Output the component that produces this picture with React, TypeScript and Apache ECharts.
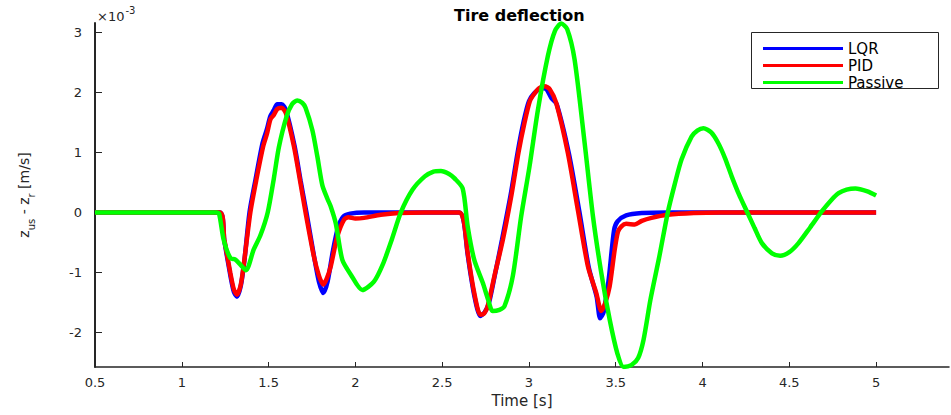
import React, { useEffect, useRef } from "react";
import * as echarts from "echarts";

// ---- data (tire deflection, units of 1e-3) ----
const lqrT = [0.5, 1.22, 1.245, 1.28, 1.3, 1.318, 1.34, 1.36, 1.39, 1.425, 1.465, 1.49, 1.51, 1.53, 1.55, 1.575, 1.6, 1.65, 1.685, 1.718, 1.765, 1.79, 1.815, 1.84, 1.87, 1.9, 1.93, 1.97, 2.05, 2.6, 2.625, 2.647, 2.685, 2.72, 2.745, 2.77, 2.801, 2.845, 2.895, 2.935, 2.97, 3.0, 3.03, 3.07, 3.1, 3.13, 3.16, 3.23, 3.29, 3.345, 3.39, 3.41, 3.43, 3.46, 3.49, 3.51, 3.56, 3.65, 3.8, 5.0];
const lqrY = [0, 0, -0.47, -1.05, -1.32, -1.4, -1.22, -0.82, 0.0, 0.55, 1.15, 1.38, 1.6, 1.7, 1.8, 1.8, 1.7, 1.1, 0.52, 0.0, -0.78, -1.15, -1.34, -1.15, -0.65, -0.25, -0.07, -0.02, 0, 0, -0.16, -0.7, -1.38, -1.72, -1.66, -1.5, -1.08, -0.45, 0.3, 1.0, 1.52, 1.85, 1.98, 2.07, 2.05, 1.9, 1.8, 0.98, 0.02, -0.92, -1.4, -1.76, -1.66, -1.1, -0.3, -0.15, -0.05, -0.01, 0, 0];

const pidT = [0.5, 1.22, 1.245, 1.28, 1.3, 1.318, 1.34, 1.36, 1.395, 1.43, 1.469, 1.49, 1.511, 1.53, 1.55, 1.575, 1.6, 1.646, 1.68, 1.713, 1.761, 1.79, 1.815, 1.835, 1.858, 1.896, 1.935, 1.96, 2.0, 2.05, 2.146, 2.25, 2.4, 2.6, 2.625, 2.647, 2.685, 2.72, 2.742, 2.762, 2.801, 2.85, 2.9, 2.94, 2.975, 3.005, 3.03, 3.06, 3.09, 3.12, 3.157, 3.224, 3.282, 3.34, 3.388, 3.417, 3.44, 3.465, 3.494, 3.513, 3.533, 3.56, 3.61, 3.65, 3.706, 3.8, 3.95, 4.1, 5.0];
const pidY = [0, 0, -0.45, -1.01, -1.28, -1.37, -1.2, -0.8, 0.0, 0.55, 1.1, 1.3, 1.55, 1.62, 1.72, 1.74, 1.65, 1.1, 0.55, 0.0, -0.73, -1.05, -1.2, -1.1, -0.9, -0.4, -0.12, -0.08, -0.1, -0.09, -0.04, -0.01, 0, 0, -0.15, -0.67, -1.34, -1.7, -1.68, -1.56, -1.06, -0.45, 0.3, 1.0, 1.5, 1.85, 1.97, 2.07, 2.1, 2.05, 1.82, 0.99, 0.04, -0.9, -1.34, -1.64, -1.5, -1.23, -0.62, -0.32, -0.23, -0.19, -0.2, -0.14, -0.09, -0.04, -0.01, 0, 0];

const passiveT = [0.5, 1.2, 1.215, 1.241, 1.28, 1.307, 1.335, 1.37, 1.414, 1.453, 1.495, 1.53, 1.559, 1.603, 1.635, 1.665, 1.695, 1.713, 1.752, 1.781, 1.81, 1.84, 1.858, 1.887, 1.925, 1.973, 2.04, 2.107, 2.16, 2.21, 2.262, 2.33, 2.4, 2.45, 2.493, 2.54, 2.57, 2.618, 2.647, 2.685, 2.734, 2.765, 2.791, 2.83, 2.859, 2.907, 2.955, 3.003, 3.052, 3.109, 3.15, 3.186, 3.22, 3.263, 3.321, 3.369, 3.417, 3.465, 3.51, 3.545, 3.59, 3.629, 3.66, 3.7, 3.75, 3.8, 3.84, 3.879, 3.937, 3.97, 4.005, 4.05, 4.091, 4.13, 4.168, 4.21, 4.255, 4.3, 4.342, 4.4, 4.447, 4.5, 4.553, 4.62, 4.688, 4.74, 4.784, 4.83, 4.881, 4.95, 5.0];
const passiveY = [0, 0, -0.02, -0.45, -0.76, -0.78, -0.86, -0.96, -0.62, -0.38, 0.0, 0.56, 1.08, 1.59, 1.8, 1.86, 1.82, 1.74, 1.37, 0.93, 0.45, 0.22, 0.1, -0.18, -0.79, -1.03, -1.29, -1.15, -0.85, -0.45, 0.0, 0.38, 0.6, 0.68, 0.69, 0.64, 0.57, 0.4, -0.23, -0.79, -1.17, -1.45, -1.64, -1.62, -1.56, -1.06, -0.07, 0.76, 1.71, 2.6, 3.02, 3.14, 3.05, 2.54, 1.15, -0.07, -1.01, -1.78, -2.35, -2.57, -2.54, -2.42, -2.12, -1.45, -0.75, 0.0, 0.47, 0.88, 1.26, 1.36, 1.4, 1.33, 1.15, 0.9, 0.6, 0.3, 0.02, -0.26, -0.51, -0.68, -0.72, -0.66, -0.51, -0.25, 0.02, 0.2, 0.32, 0.38, 0.4, 0.35, 0.28];

const xTicks = [0.5, 1, 1.5, 2, 2.5, 3, 3.5, 4, 4.5, 5];
const yTicks = [-2, -1, 0, 1, 2, 3];
const seriesNames = ["LQR", "PID", "Passive"];
const seriesColors = ["#0000ff", "#ff0000", "#00ff00"];

const pairs = (t: number[], y: number[]) => t.map((v, i) => [v, y[i]]);

const FONT = "DejaVu Sans";
const INK = "#262626";

export default function App() {
  const ref = useRef<HTMLDivElement>(null);
  useEffect(() => {
    if (!ref.current) return;
    const chart = echarts.init(ref.current, undefined, { renderer: "svg" });
    const data = [pairs(lqrT, lqrY), pairs(pidT, pidY), pairs(passiveT, passiveY)];
    chart.setOption({
      animation: false,
      backgroundColor: "#ffffff",
      title: {
        text: "Tire deflection",
        left: 449,
        top: 2,
        textStyle: { fontFamily: FONT, fontSize: 16, fontWeight: "bold", color: "#000" },
      },
      grid: { left: 95, right: 2, top: 23, bottom: 48, containLabel: false },
      legend: {
        orient: "vertical",
        left: 758,
        top: 36,
        icon: "rect",
        itemWidth: 80,
        itemHeight: 3,
        itemGap: 2,
        itemStyle: { borderWidth: 0 },
        textStyle: { fontFamily: FONT, fontSize: 15, color: "#000", lineHeight: 15 },
        data: seriesNames,
      },
      graphic: [
        {
          type: "rect",
          left: 751,
          top: 32,
          z: 3,
          shape: { width: 187, height: 56 },
          style: { fill: "#fff", stroke: INK, lineWidth: 1 },
        },
        {
          type: "text",
          left: 97,
          top: 5,
          style: {
            text: "{a|×10}{b|-3}",
            rich: {
              a: { fontFamily: FONT, fontSize: 13, fill: INK, padding: [6, 0, 0, 0] },
              b: { fontFamily: FONT, fontSize: 10, fill: INK, padding: [0, 0, 6, 1] },
            },
          },
        },
      ],
      xAxis: {
        type: "value",
        min: 0.5,
        max: 5.42,
        splitLine: { show: false },
        axisLine: { onZero: false, lineStyle: { color: INK, width: 1.5 } },
        axisTick: { inside: true, length: 5, customValues: xTicks, lineStyle: { color: INK } },
        axisLabel: {
          customValues: xTicks,
          margin: 9,
          fontFamily: FONT,
          fontSize: 13,
          color: INK,
          formatter: (v: number) => String(v),
        },
        name: "Time [s]",
        nameLocation: "middle",
        nameGap: 26,
        nameTextStyle: { fontFamily: FONT, fontSize: 15, color: INK },
      },
      yAxis: {
        type: "value",
        min: -2.57,
        max: 3.15,
        splitLine: { show: false },
        axisLine: { show: true, onZero: false, lineStyle: { color: INK, width: 2 } },
        axisTick: { show: true, inside: true, length: 7, customValues: yTicks, lineStyle: { color: INK } },
        axisLabel: {
          customValues: yTicks,
          margin: 13,
          fontFamily: FONT,
          fontSize: 13,
          color: INK,
          formatter: (v: number) => String(v),
        },
        name: "{m|z}{s|us}{m| - z}{s|r}{m| [m/s]}",
        nameLocation: "middle",
        nameRotate: 90,
        nameGap: 58,
        nameTextStyle: {
          rich: {
            m: { fontFamily: FONT, fontSize: 14, color: INK, padding: [0, 0, 6, 0] },
            s: { fontFamily: FONT, fontSize: 10, color: INK, padding: [8, 0, 0, 0] },
          },
        },
      },
      series: seriesNames.map((name, i) => ({
        name,
        type: "line",
        data: data[i],
        showSymbol: false,
        symbol: "none",
        smooth: 0.25,
        color: seriesColors[i],
        lineStyle: { color: seriesColors[i], width: 4.5 },
        z: 2 + i,
      })),
    });
    return () => chart.dispose();
  }, []);
  return (
    <div
      ref={ref}
      style={{ position: "fixed", left: 0, top: 0, width: 951, height: 415, background: "#fff" }}
    />
  );
}
